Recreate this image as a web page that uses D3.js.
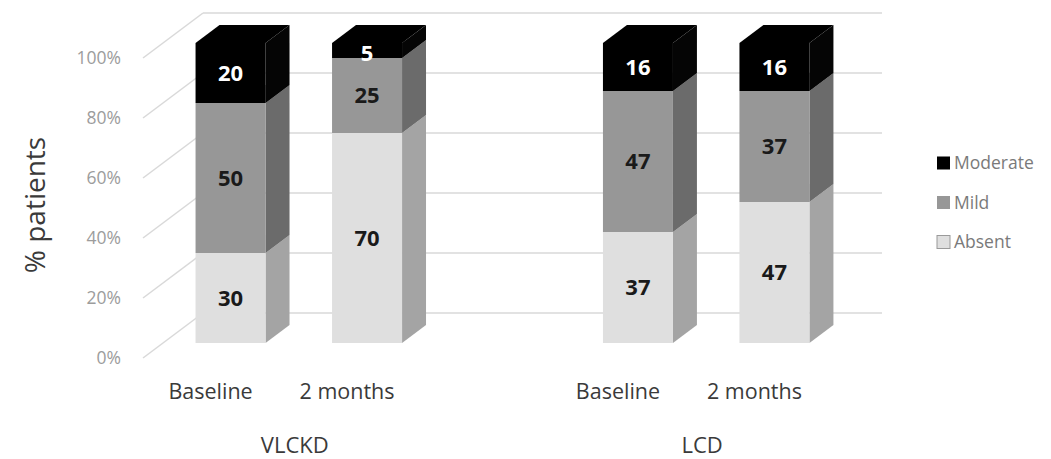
<!DOCTYPE html>
<html>
<head>
<meta charset="utf-8">
<script src="https://cdn.jsdelivr.net/npm/d3@7/dist/d3.min.js"></script>
<style>
  html, body { margin: 0; padding: 0; background: #fff; }
  svg { display: block; font-family: "Open Sans", "Noto Sans", sans-serif; }
</style>
</head>
<body>
<svg id="chart" width="1051" height="459"></svg>
<script>
// Study arms and time points
const groups = ["VLCKD", "LCD"];
const periods = ["Baseline", "2 months"];
// Severity levels, stacked bottom to top
const severities = ["Absent", "Mild", "Moderate"];
const legendOrder = ["Moderate", "Mild", "Absent"];
// Percent of patients per bar (order: VLCKD Baseline, VLCKD 2 months, LCD Baseline, LCD 2 months)
const absentValues = [30, 70, 37, 47];
const mildValues = [50, 25, 47, 37];
const moderateValues = [20, 5, 16, 16];
const yTicks = [0, 20, 40, 60, 80, 100];
const yTickLabels = ["0%", "20%", "40%", "60%", "80%", "100%"];

const seriesValues = { Absent: absentValues, Mild: mildValues, Moderate: moderateValues };

const colors = {
  Absent:   { front: "#dfdfdf", side: "#a4a4a4", top: "#eeeeee", text: "#1a1a1a" },
  Mild:     { front: "#979797", side: "#6b6b6b", top: "#aaaaaa", text: "#1a1a1a" },
  Moderate: { front: "#000000", side: "#050505", top: "#000000", text: "#ffffff" }
};

const svg = d3.select("#chart");

// Front plane of the 3-D box, with an oblique depth offset
const plotLeft = 143, plotRight = 822;
const depth = { dx: 60, dy: 45 };
const barZ = [1 / 3, 0.733];
const barWidth = 70;

const y = d3.scaleLinear().domain([0, 100]).range([358, 58]);
const xGroup = d3.scalePoint().domain(groups).range([plotLeft, plotRight]).padding(1 / 3);
const xPeriod = d3.scalePoint().domain(periods).range([-68.25, 68.25]);

// Project (x on front plane, value, depth 0..1) to screen
function proj(x, v, z) {
  return [x + z * depth.dx, y(v) - z * depth.dy];
}

// Bars as rows
const bars = [];
groups.forEach((g, gi) => {
  periods.forEach((p, pi) => {
    const i = gi * periods.length + pi;
    let acc = 0;
    const segs = severities.map(s => {
      const v = seriesValues[s][i];
      const seg = { key: s, v0: acc, v1: acc + v, value: v };
      acc += v;
      return seg;
    });
    const cx = xGroup(g) + xPeriod(p);
    bars.push({ group: g, period: p, cx, segs });
  });
});

// Walls: back-wall gridlines and side-wall diagonals
const grid = svg.append("g").attr("stroke", "#d9d9d9").attr("stroke-width", 1.5).attr("fill", "none");
yTicks.forEach(t => {
  const a = proj(plotLeft, t, 0), b = proj(plotLeft, t, 1), c = proj(plotRight, t, 1);
  grid.append("line").attr("x1", a[0]).attr("y1", a[1]).attr("x2", b[0]).attr("y2", b[1]);
  grid.append("line").attr("x1", b[0]).attr("y1", b[1]).attr("x2", c[0]).attr("y2", c[1]);
});

// Y tick labels
svg.append("g").selectAll("text").data(yTicks).join("text")
  .attr("x", plotLeft - 22)
  .attr("y", d => y(d))
  .attr("dy", "0.35em")
  .attr("text-anchor", "end")
  .attr("fill", "#9c9c9c")
  .attr("font-size", 17.5)
  .text((d, i) => yTickLabels[i]);

// Axis title
svg.append("text")
  .attr("transform", `translate(45,${y(50) - 3}) rotate(-90)`)
  .attr("text-anchor", "middle")
  .attr("fill", "#3a3a3a")
  .attr("font-size", 28)
  .text("% patients");

// 3-D stacked bars
const poly = pts => pts.map(p => p.join(",")).join(" ");
const barG = svg.append("g");
bars.forEach(bar => {
  const xl = bar.cx - barWidth / 2, xr = bar.cx + barWidth / 2;
  const [zf, zb] = barZ;
  const g = barG.append("g");
  bar.segs.forEach(s => {
    const c = colors[s.key];
    g.append("polygon").attr("fill", c.top)
      .attr("points", poly([proj(xl, s.v1, zf), proj(xl, s.v1, zb), proj(xr, s.v1, zb), proj(xr, s.v1, zf)]));
    g.append("polygon").attr("fill", c.side)
      .attr("points", poly([proj(xr, s.v0, zf), proj(xr, s.v0, zb), proj(xr, s.v1, zb), proj(xr, s.v1, zf)]));
    g.append("polygon").attr("fill", c.front)
      .attr("points", poly([proj(xl, s.v0, zf), proj(xr, s.v0, zf), proj(xr, s.v1, zf), proj(xl, s.v1, zf)]));
  });
  bar.segs.forEach(s => {
    const p = proj(bar.cx, (s.v0 + s.v1) / 2, zf);
    g.append("text")
      .attr("x", p[0]).attr("y", p[1] + (s.value < 10 ? 3 : 0))
      .attr("dy", "0.35em")
      .attr("text-anchor", "middle")
      .attr("font-weight", "bold")
      .attr("font-size", 22)
      .attr("fill", colors[s.key].text)
      .text(s.value);
  });
});

// Category labels
svg.append("g").selectAll("text").data(bars).join("text")
  .attr("x", d => d.cx)
  .attr("y", y(0) + 33)
  .attr("dy", "0.35em")
  .attr("text-anchor", "middle")
  .attr("fill", "#3a3a3a")
  .attr("font-size", 21.5)
  .text(d => d.period);

// Group labels
svg.append("g").selectAll("text").data(groups).join("text")
  .attr("x", d => xGroup(d) + 16)
  .attr("y", y(0) + 87)
  .attr("dy", "0.35em")
  .attr("text-anchor", "middle")
  .attr("fill", "#3a3a3a")
  .attr("font-size", 22)
  .text(d => d);

// Legend
const legend = svg.append("g").attr("transform", "translate(937,163)");
const li = legend.selectAll("g").data(legendOrder).join("g")
  .attr("transform", (d, i) => `translate(0,${i * 39.5})`);
li.append("rect")
  .attr("x", 0).attr("y", -6.5).attr("width", 13).attr("height", 13)
  .attr("fill", d => colors[d].front)
  .attr("stroke", d => d === "Absent" ? "#9a9a9a" : "none")
  .attr("stroke-width", 1);
li.append("text")
  .attr("x", 17).attr("y", 0).attr("dy", "0.35em")
  .attr("fill", "#7a7a7a")
  .attr("font-size", 17.5)
  .text(d => d);
</script>
</body>
</html>
